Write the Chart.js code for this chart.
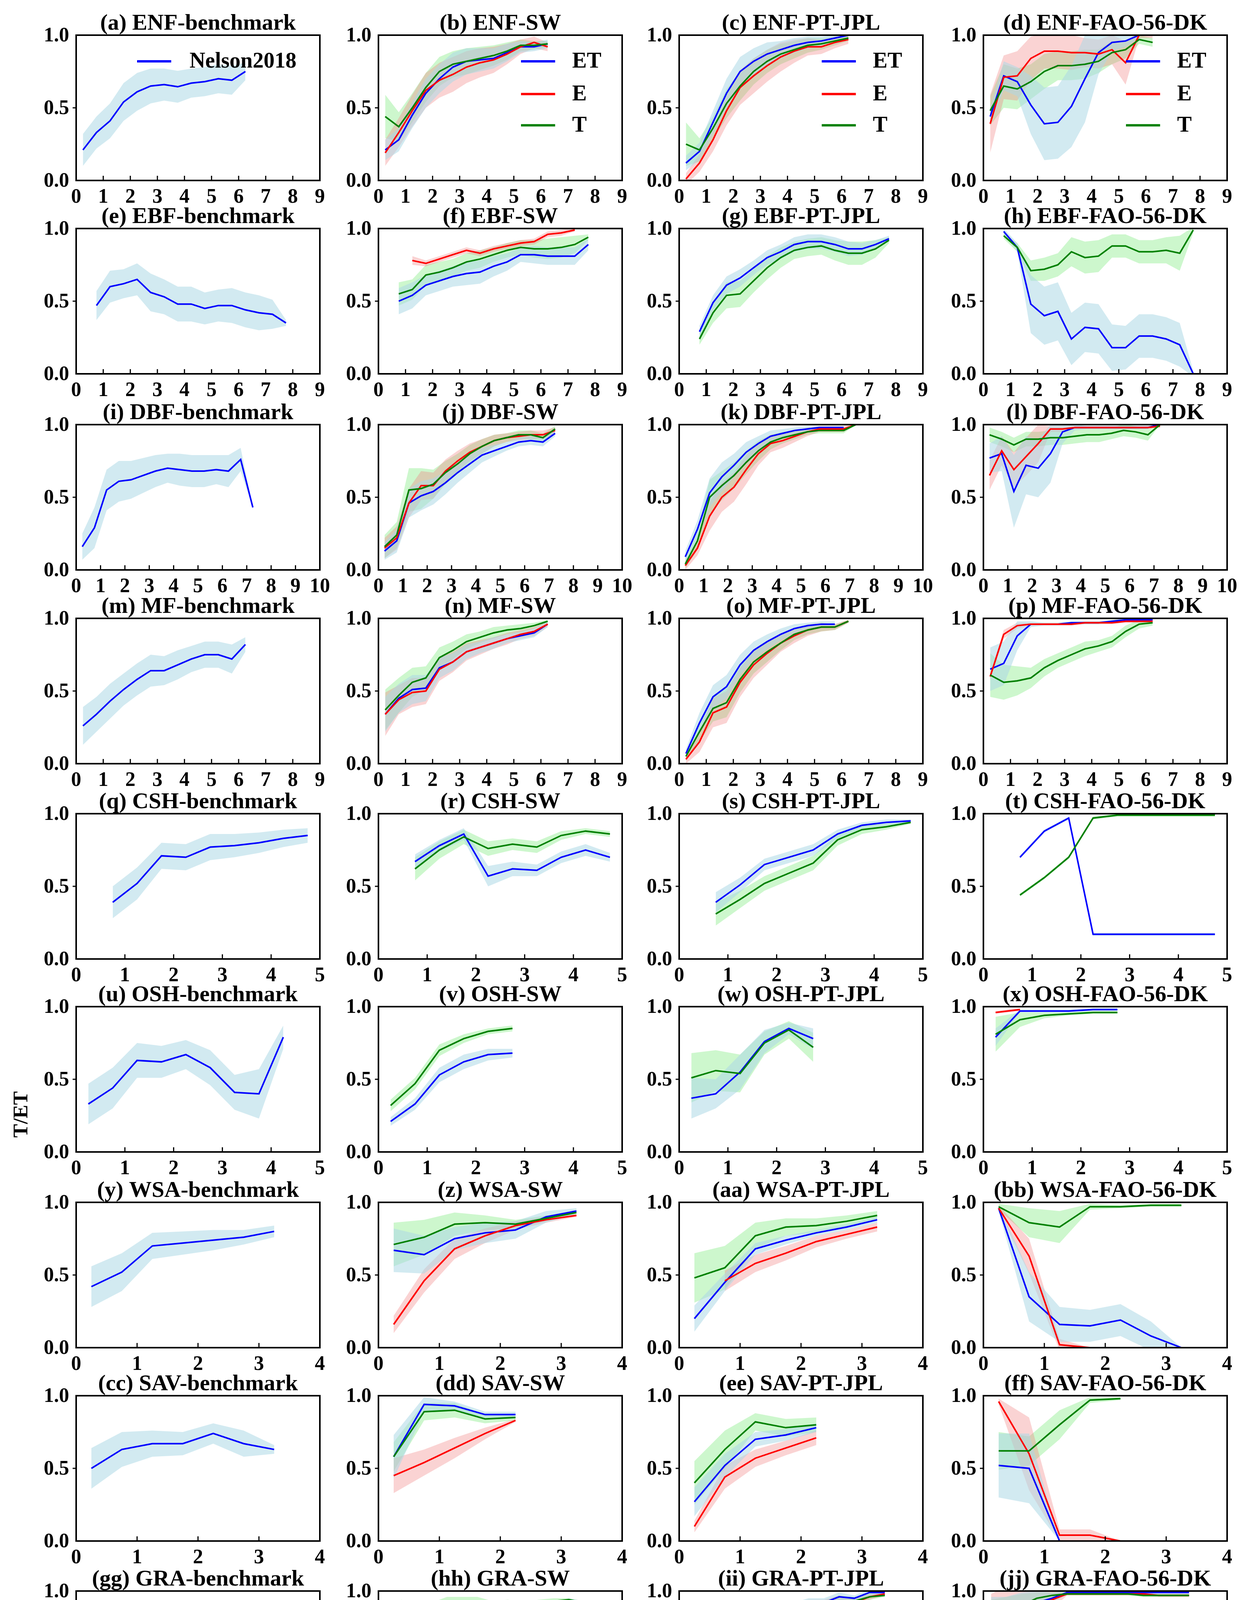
<!DOCTYPE html>
<html>
<head>
<meta charset="utf-8">
<script src="https://cdn.jsdelivr.net/npm/chart.js@4.4.1/dist/chart.umd.min.js"></script>
<style>
  body { margin: 0; background: #fff; width: 3175px; height: 5575px; position: relative; overflow: hidden; font-family: "Liberation Serif", serif; }
  canvas { position: absolute; }
  .lab { position: absolute; font-weight: bold; font-size: 52px; color: #000; }
</style>
</head>
<body>
<div class="lab" style="left:14px;top:2853px;transform:translate(-50%,-50%) rotate(-90deg);left:52px;">T/ET</div>
<div class="lab" style="left:1585px;top:5534px;transform:translate(-50%,-50%);">LAI</div>
<script>
// ---- LAI bin centres per land cover ----
const xENF = [0.25,0.75,1.25,1.75,2.25,2.75,3.25,3.75,4.25,4.75,5.25,5.75,6.25];
const xEBF = [0.75,1.25,1.75,2.25,2.75,3.25,3.75,4.25,4.75,5.25,5.75,6.25,6.75,7.25,7.75];
const xDBF = [0.25,0.75,1.25,1.75,2.25,2.75,3.25,3.75,4.25,4.75,5.25,5.75,6.25,6.75,7.25];
const xMF  = [0.25,0.75,1.25,1.75,2.25,2.75,3.25,3.75,4.25,4.75,5.25,5.75,6.25];
const xCSH = [0.75,1.25,1.75,2.25,2.75,3.25,3.75,4.25,4.75];
const xOSH = [0.25,0.75,1.25,1.75,2.25,2.75,3.25,3.75,4.25];
const xWSA = [0.25,0.75,1.25,1.75,2.25,2.75,3.25];
const xSAV = [0.25,0.75,1.25,1.75,2.25,2.75,3.25];
const xGRA = [0.25,0.75,1.25,1.75,2.25,2.75,3.25,3.75,4.25,4.75,5.25,5.75,6.25,6.75,7.25];
const xWET = [0.25,0.75,1.25,1.75,2.25,2.75,3.25,3.75,4.25,4.75,5.25];
const xCRO = [0.25,0.75,1.25,1.75,2.25,2.75,3.25,3.75,4.25,4.75,5.25,5.75,6.25];

// ---- T/ET means and spreads (ET = T/ET of ET partition, E, T) ----
const a_ET = [0.21,0.33,0.41,0.54,0.61,0.65,0.66,0.645,0.67,0.68,0.70,0.69,0.75];
const a_ETsd = [0.11,0.11,0.12,0.13,0.13,0.12,0.11,0.11,0.1,0.1,0.1,0.1,0.06];
const b_ET = [0.21,0.28,0.45,0.6,0.7,0.78,0.82,0.83,0.84,0.88,0.92,0.92,0.94];
const b_ETsd = [0.07,0.08,0.09,0.1,0.1,0.1,0.09,0.08,0.07,0.06,0.04,0.03,0.03];
const b_E = [0.19,0.33,0.48,0.62,0.69,0.73,0.78,0.81,0.83,0.87,0.92,0.95,0.92];
const b_Esd = [0.09,0.1,0.11,0.12,0.12,0.12,0.11,0.1,0.09,0.07,0.05,0.04,0.03];
const b_T = [0.44,0.37,0.5,0.64,0.75,0.8,0.82,0.84,0.86,0.89,0.93,0.93,0.94];
const b_Tsd = [0.15,0.1,0.1,0.1,0.1,0.09,0.09,0.08,0.07,0.06,0.04,0.03,0.02];
const c_ET = [0.12,0.2,0.4,0.6,0.75,0.82,0.87,0.9,0.93,0.95,0.96,0.98,1.0];
const c_ETsd = [0.05,0.06,0.08,0.1,0.1,0.09,0.08,0.06,0.05,0.04,0.03,0.02,0.01];
const c_E = [0.01,0.12,0.28,0.48,0.64,0.72,0.79,0.85,0.89,0.92,0.92,0.95,0.97];
const c_Esd = [0.04,0.06,0.08,0.1,0.12,0.12,0.11,0.1,0.08,0.06,0.05,0.04,0.03];
const c_T = [0.25,0.21,0.36,0.53,0.65,0.75,0.82,0.87,0.9,0.93,0.94,0.96,0.98];
const c_Tsd = [0.15,0.08,0.08,0.1,0.1,0.09,0.08,0.07,0.06,0.05,0.04,0.03,0.02];
const d_ET = [0.44,0.72,0.68,0.52,0.39,0.40,0.51,0.70,0.88,0.95,0.96,1.0,null];
const d_ETsd = [0.06,0.1,0.1,0.2,0.25,0.25,0.28,0.3,0.15,0.06,0.04,0.02,null];
const d_E = [0.39,0.71,0.72,0.84,0.89,0.89,0.88,0.88,0.87,0.9,0.81,1.0,1.0];
const d_Esd = [0.2,0.15,0.17,0.15,0.12,0.12,0.12,0.1,0.1,0.1,0.15,0.02,0.02];
const d_T = [0.48,0.65,0.63,0.68,0.75,0.79,0.79,0.8,0.82,0.88,0.9,0.97,0.95];
const d_Tsd = [0.1,0.15,0.14,0.12,0.12,0.1,0.1,0.1,0.08,0.08,0.06,0.03,0.03];

const e_ET = [0.47,0.6,0.62,0.65,0.56,0.53,0.48,0.48,0.45,0.47,0.47,0.44,0.42,0.41,0.35];
const e_ETsd = [0.1,0.11,0.1,0.11,0.13,0.12,0.12,0.12,0.11,0.11,0.12,0.12,0.12,0.1,0.02];
const f_ET = [0.5,0.54,0.61,0.64,0.67,0.69,0.7,0.74,0.77,0.82,0.82,0.81,0.81,0.81,0.89];
const f_ETsd = [0.09,0.09,0.07,0.07,0.07,0.08,0.08,0.07,0.06,0.05,0.06,0.06,0.06,0.06,0.04];
const f_E = [null,0.78,0.76,0.79,0.82,0.85,0.83,0.86,0.88,0.9,0.91,0.96,0.97,0.99,null];
const f_Esd = [null,0.03,0.02,0.02,0.02,0.02,0.02,0.02,0.02,0.02,0.02,0.02,0.02,0.01,null];
const f_T = [0.55,0.58,0.68,0.7,0.73,0.77,0.79,0.82,0.85,0.87,0.86,0.86,0.87,0.89,0.94];
const f_Tsd = [0.08,0.07,0.07,0.07,0.06,0.06,0.06,0.05,0.05,0.05,0.06,0.07,0.07,0.06,0.02];
const g_ET = [0.29,0.49,0.61,0.66,0.73,0.8,0.84,0.89,0.91,0.91,0.89,0.86,0.86,0.89,0.93];
const g_ETsd = [0.04,0.05,0.06,0.06,0.05,0.05,0.05,0.05,0.05,0.05,0.05,0.05,0.04,0.03,0.02];
const g_T = [0.24,0.42,0.54,0.55,0.64,0.73,0.8,0.85,0.87,0.88,0.85,0.83,0.83,0.86,0.92];
const g_Tsd = [0.04,0.07,0.09,0.09,0.08,0.08,0.07,0.06,0.06,0.06,0.07,0.08,0.08,0.06,0.02];
const h_ET = [0.98,0.87,0.48,0.4,0.43,0.24,0.32,0.31,0.18,0.18,0.26,0.26,0.24,0.2,0.0];
const h_ETsd = [0.02,0.03,0.2,0.2,0.2,0.18,0.17,0.17,0.16,0.15,0.15,0.15,0.15,0.15,0.02];
const h_T = [0.95,0.87,0.71,0.72,0.75,0.84,0.8,0.81,0.88,0.88,0.84,0.84,0.85,0.83,0.99];
const h_Tsd = [0.02,0.03,0.07,0.08,0.08,0.1,0.11,0.11,0.08,0.08,0.08,0.08,0.09,0.12,0.02];

const i_ET = [0.16,0.29,0.55,0.61,0.62,0.65,0.68,0.7,0.69,0.68,0.68,0.69,0.68,0.76,0.43];
const i_ETsd = [0.09,0.14,0.14,0.14,0.13,0.12,0.11,0.1,0.11,0.11,0.11,0.1,0.11,0.08,0.0];
const j_ET = [0.13,0.2,0.46,0.51,0.54,0.6,0.67,0.73,0.79,0.82,0.85,0.88,0.89,0.88,0.94];
const j_ETsd = [0.06,0.08,0.1,0.1,0.09,0.08,0.07,0.06,0.05,0.04,0.03,0.03,0.03,0.03,0.02];
const j_E = [0.15,0.22,0.46,0.58,0.58,0.68,0.75,0.81,0.85,0.89,0.91,0.92,0.93,0.93,0.96];
const j_Esd = [0.07,0.08,0.1,0.1,0.09,0.08,0.07,0.06,0.05,0.04,0.03,0.03,0.03,0.03,0.02];
const j_T = [0.16,0.24,0.55,0.56,0.59,0.67,0.73,0.8,0.85,0.89,0.91,0.93,0.93,0.91,0.97];
const j_Tsd = [0.08,0.09,0.15,0.14,0.1,0.08,0.07,0.06,0.05,0.04,0.03,0.03,0.03,0.03,0.02];
const k_ET = [0.09,0.28,0.53,0.64,0.72,0.81,0.87,0.92,0.94,0.96,0.97,0.98,0.98,0.98,null];
const k_ETsd = [0.04,0.06,0.1,0.1,0.08,0.07,0.05,0.04,0.03,0.02,0.02,0.01,0.01,0.01,null];
const k_E = [0.03,0.15,0.37,0.5,0.57,0.69,0.8,0.87,0.89,0.92,0.95,0.97,0.97,0.97,1.0];
const k_Esd = [0.03,0.05,0.1,0.1,0.1,0.1,0.08,0.06,0.05,0.04,0.03,0.02,0.02,0.02,0.0];
const k_T = [0.04,0.2,0.5,0.58,0.65,0.74,0.82,0.88,0.91,0.93,0.95,0.96,0.96,0.96,1.0];
const k_Tsd = [0.03,0.06,0.12,0.1,0.09,0.08,0.07,0.05,0.04,0.03,0.02,0.02,0.02,0.02,0.0];
const l_ET = [0.77,0.8,0.54,0.72,0.7,0.8,0.95,0.98,0.98,0.98,0.98,0.98,0.98,0.98,1.0];
const l_ETsd = [0.1,0.12,0.25,0.2,0.2,0.2,0.08,0.02,0.01,0.01,0.01,0.01,0.01,0.01,0.0];
const l_E = [0.65,0.82,0.69,0.78,0.87,0.97,0.97,0.98,0.98,0.98,0.98,0.98,0.98,0.98,0.99];
const l_Esd = [0.1,0.1,0.12,0.13,0.13,0.02,0.02,0.01,0.01,0.01,0.01,0.01,0.01,0.01,0.01];
const l_T = [0.93,0.9,0.86,0.9,0.9,0.91,0.91,0.92,0.93,0.93,0.94,0.96,0.95,0.93,1.0];
const l_Tsd = [0.05,0.05,0.05,0.05,0.05,0.05,0.05,0.05,0.05,0.05,0.04,0.04,0.04,0.04,0.0];

const m_ET = [0.26,0.34,0.43,0.51,0.58,0.64,0.64,0.68,0.72,0.75,0.75,0.72,0.82];
const m_ETsd = [0.13,0.12,0.12,0.11,0.11,0.11,0.1,0.1,0.09,0.09,0.09,0.1,0.05];
const n_ET = [0.34,0.45,0.51,0.52,0.66,0.7,0.77,0.8,0.83,0.86,0.88,0.9,0.96];
const n_ETsd = [0.12,0.1,0.1,0.09,0.07,0.06,0.05,0.04,0.04,0.03,0.03,0.03,0.02];
const n_E = [0.34,0.44,0.49,0.5,0.65,0.7,0.77,0.8,0.83,0.86,0.89,0.91,0.96];
const n_Esd = [0.15,0.1,0.1,0.09,0.08,0.07,0.06,0.05,0.04,0.04,0.03,0.03,0.02];
const n_T = [0.37,0.47,0.56,0.59,0.73,0.78,0.84,0.87,0.9,0.92,0.93,0.95,0.98];
const n_Tsd = [0.14,0.12,0.1,0.08,0.07,0.06,0.05,0.04,0.04,0.03,0.03,0.02,0.01];
const o_ET = [0.07,0.28,0.46,0.53,0.68,0.78,0.84,0.89,0.93,0.95,0.96,0.96,null];
const o_ETsd = [0.03,0.07,0.08,0.08,0.07,0.06,0.05,0.04,0.03,0.02,0.02,0.02,null];
const o_E = [0.03,0.15,0.35,0.39,0.56,0.68,0.76,0.83,0.88,0.92,0.94,0.94,0.98];
const o_Esd = [0.03,0.07,0.1,0.11,0.1,0.09,0.08,0.06,0.05,0.04,0.03,0.02,0.01];
const o_T = [0.05,0.22,0.38,0.42,0.58,0.7,0.77,0.83,0.89,0.92,0.94,0.94,0.98];
const o_Tsd = [0.03,0.07,0.09,0.1,0.09,0.08,0.07,0.05,0.04,0.03,0.03,0.02,0.01];
const p_ET = [0.65,0.69,0.88,0.96,0.96,0.96,0.97,0.97,0.97,0.98,0.99,0.99,0.99];
const p_ETsd = [0.15,0.15,0.1,0.02,0.01,0.01,0.01,0.01,0.01,0.01,0.01,0.01,0.01];
const p_E = [0.6,0.89,0.95,0.96,0.96,0.96,0.96,0.97,0.97,0.97,0.98,0.98,0.98];
const p_Esd = [0.02,0.03,0.02,0.01,0.01,0.01,0.01,0.01,0.01,0.01,0.01,0.01,0.01];
const p_T = [0.61,0.56,0.57,0.59,0.66,0.71,0.75,0.79,0.81,0.84,0.91,0.96,0.97];
const p_Tsd = [0.15,0.12,0.1,0.07,0.06,0.05,0.05,0.05,0.04,0.04,0.04,0.03,0.02];

const q_ET = [0.39,0.52,0.71,0.7,0.77,0.78,0.8,0.83,0.85];
const q_ETsd = [0.11,0.11,0.09,0.09,0.09,0.08,0.07,0.06,0.05];
const r_ET = [0.67,0.78,0.86,0.57,0.62,0.61,0.7,0.75,0.7];
const r_ETsd = [0.05,0.04,0.04,0.07,0.05,0.04,0.04,0.04,0.03];
const r_T = [0.62,0.75,0.84,0.76,0.79,0.77,0.85,0.88,0.86];
const r_Tsd = [0.08,0.06,0.05,0.05,0.04,0.04,0.03,0.02,0.02];
const s_ET = [0.39,0.51,0.65,0.7,0.75,0.86,0.92,0.94,0.95];
const s_ETsd = [0.07,0.05,0.04,0.04,0.04,0.03,0.02,0.02,0.01];
const s_T = [0.31,0.41,0.52,0.59,0.66,0.82,0.89,0.91,0.94];
const s_Tsd = [0.08,0.06,0.05,0.05,0.05,0.04,0.03,0.02,0.01];
const t_ET = [0.7,0.88,0.97,0.17,0.17,0.17,0.17,0.17,0.17];
const t_ETsd = [0.01,0.01,0.01,0.01,0.01,0.01,0.01,0.01,0.01];
const t_T = [0.44,0.56,0.7,0.97,0.99,0.99,0.99,0.99,0.99];
const t_Tsd = [0.01,0.01,0.01,0.01,0.01,0.01,0.01,0.01,0.01];

const u_ET = [0.33,0.44,0.63,0.62,0.67,0.58,0.41,0.4,0.79];
const u_ETsd = [0.14,0.14,0.12,0.11,0.1,0.12,0.12,0.17,0.08];
const v_ET = [0.21,0.33,0.53,0.62,0.67,0.68,null,null,null];
const v_ETsd = [0.03,0.04,0.05,0.05,0.04,0.03,null,null,null];
const v_T = [0.32,0.47,0.7,0.78,0.83,0.85,null,null,null];
const v_Tsd = [0.04,0.04,0.04,0.03,0.02,0.02,null,null,null];
const w_ET = [0.37,0.4,0.55,0.76,0.85,0.78,null,null,null];
const w_ETsd = [0.14,0.1,0.12,0.08,0.04,0.07,null,null,null];
const w_T = [0.51,0.56,0.54,0.75,0.84,0.72,null,null,null];
const w_Tsd = [0.17,0.14,0.13,0.08,0.06,0.1,null,null,null];
const x_ET = [0.79,0.97,0.97,0.97,0.98,0.98,null,null,null];
const x_ETsd = [0.06,0.01,0.01,0.01,0.01,0.01,null,null,null];
const x_E = [0.96,0.98,null,null,null,null,null,null,null];
const x_Esd = [0.01,0.01,null,null,null,null,null,null,null];
const x_T = [0.81,0.91,0.94,0.95,0.96,0.96,null,null,null];
const x_Tsd = [0.12,0.05,0.02,0.01,0.01,0.01,null,null,null];

const y_ET = [0.42,0.52,0.7,0.72,0.74,0.76,0.8];
const y_ETsd = [0.14,0.13,0.09,0.08,0.07,0.05,0.04];
const z_ET = [0.67,0.64,0.75,0.79,0.81,0.9,0.94];
const z_ETsd = [0.15,0.13,0.08,0.07,0.06,0.04,0.02];
const z_E = [0.16,0.46,0.68,0.77,0.84,0.88,0.91];
const z_Esd = [0.06,0.08,0.07,0.05,0.03,0.02,0.01];
const z_T = [0.71,0.76,0.85,0.86,0.85,0.89,0.93];
const z_Tsd = [0.15,0.12,0.08,0.05,0.03,0.02,0.01];
const aa_ET = [0.2,0.45,0.68,0.74,0.79,0.83,0.88];
const aa_ETsd = [0.09,0.06,0.04,0.03,0.02,0.02,0.02];
const aa_E = [null,0.46,0.58,0.65,0.73,0.78,0.83];
const aa_Esd = [null,0.07,0.06,0.05,0.04,0.03,0.03];
const aa_T = [0.48,0.55,0.77,0.83,0.84,0.87,0.91];
const aa_Tsd = [0.17,0.15,0.09,0.06,0.05,0.04,0.03];
const bb_ET = [0.96,0.35,0.16,0.15,0.19,0.08,0.0];
const bb_ETsd = [0.02,0.17,0.12,0.11,0.11,0.1,0.0];
const bb_E = [0.96,0.63,0.02,0.0,null,null,null];
const bb_Esd = [0.02,0.12,0.04,0.0,null,null,null];
const bb_T = [0.97,0.86,0.83,0.97,0.97,0.98,0.98];
const bb_Tsd = [0.02,0.1,0.11,0.02,0.01,0.01,0.01];

const cc_ET = [0.5,0.63,0.67,0.67,0.74,0.67,0.63];
const cc_ETsd = [0.14,0.12,0.09,0.08,0.07,0.09,0.03];
const dd_ET = [0.58,0.94,0.93,0.87,0.87,null,null];
const dd_ETsd = [0.15,0.05,0.03,0.02,0.02,null,null];
const dd_E = [0.45,0.54,0.64,0.74,0.83,null,null];
const dd_Esd = [0.12,0.09,0.07,0.04,0.01,null,null];
const dd_T = [0.58,0.89,0.9,0.84,0.85,null,null];
const dd_Tsd = [0.1,0.06,0.05,0.03,0.02,null,null];
const ee_ET = [0.27,0.52,0.7,0.73,0.78,null,null];
const ee_ETsd = [0.1,0.08,0.05,0.04,0.03,null,null];
const ee_E = [0.1,0.44,0.57,0.64,0.71,null,null];
const ee_Esd = [0.04,0.08,0.06,0.05,0.05,null,null];
const ee_T = [0.4,0.63,0.82,0.78,0.8,null,null];
const ee_Tsd = [0.15,0.13,0.06,0.06,0.05,null,null];
const ff_ET = [0.52,0.5,0.0,0.0,0.0,null,null];
const ff_ETsd = [0.22,0.24,0.0,0.0,0.0,null,null];
const ff_E = [0.96,0.6,0.04,0.04,0.0,null,null];
const ff_Esd = [0.02,0.25,0.04,0.04,0.0,null,null];
const ff_T = [0.62,0.62,0.8,0.97,0.98,null,null];
const ff_Tsd = [0.13,0.1,0.1,0.02,0.01,null,null];

const gg_ET = [0.34,0.53,0.62,0.69,0.76,0.76,0.72,0.75,0.75,0.76,0.79,0.71,0.7,0.7,0.71];
const gg_ETsd = [0.13,0.15,0.13,0.11,0.1,0.1,0.11,0.1,0.1,0.09,0.08,0.1,0.1,0.1,0.09];
const hh_ET = [0.46,0.61,0.64,0.72,0.78,0.81,0.81,0.81,0.84,0.84,0.87,0.87,0.92,0.91,null];
const hh_ETsd = [0.12,0.12,0.11,0.1,0.09,0.08,0.07,0.06,0.05,0.05,0.04,0.04,0.03,0.02,null];
const hh_E = [0.22,0.42,0.58,0.68,0.77,0.79,0.78,0.78,0.8,0.78,0.82,0.84,0.88,0.85,null];
const hh_Esd = [0.12,0.12,0.11,0.1,0.09,0.09,0.08,0.06,0.05,0.05,0.04,0.04,0.03,0.02,null];
const hh_T = [0.63,0.84,0.84,0.87,0.92,0.93,0.93,0.91,0.92,0.9,0.92,0.93,0.94,0.92,null];
const hh_Tsd = [0.15,0.1,0.07,0.05,0.04,0.03,0.03,0.02,0.02,0.02,0.02,0.02,0.01,0.01,null];
const ii_ET = [0.27,0.48,0.58,0.7,0.79,0.82,0.88,0.88,0.91,0.92,0.96,0.95,0.99,0.99,null];
const ii_ETsd = [0.1,0.08,0.08,0.07,0.06,0.05,0.05,0.04,0.04,0.03,0.03,0.02,0.02,0.01,null];
const ii_E = [0.3,0.42,0.53,0.68,0.77,0.82,0.85,0.85,0.88,0.89,0.93,0.92,0.96,0.98,null];
const ii_Esd = [0.1,0.1,0.11,0.1,0.09,0.08,0.07,0.07,0.06,0.05,0.04,0.03,0.02,0.01,null];
const ii_T = [0.41,0.6,0.66,0.74,0.8,0.82,0.85,0.85,0.88,0.89,0.93,0.93,0.96,0.97,null];
const ii_Tsd = [0.18,0.14,0.12,0.1,0.08,0.07,0.06,0.05,0.05,0.04,0.04,0.03,0.02,0.01,null];
const jj_ET = [0.8,0.81,0.84,0.92,0.95,0.99,0.99,0.99,0.99,0.99,0.99,0.99,0.99,0.99,null];
const jj_ETsd = [0.16,0.15,0.15,0.08,0.04,0.01,0.01,0.01,0.01,0.01,0.01,0.01,0.01,0.01,null];
const jj_E = [0.88,0.88,0.88,0.9,0.94,0.98,0.98,0.98,0.98,0.98,0.98,0.97,0.97,0.97,null];
const jj_Esd = [0.1,0.15,0.15,0.12,0.06,0.01,0.01,0.01,0.01,0.01,0.01,0.01,0.01,0.01,null];
const jj_T = [0.82,0.86,0.9,0.95,0.97,0.98,0.98,0.98,0.98,0.98,0.97,0.97,0.97,0.97,null];
const jj_Tsd = [0.12,0.1,0.08,0.04,0.02,0.01,0.01,0.01,0.01,0.01,0.01,0.01,0.01,0.01,null];

const kk_ET = [0.22,0.32,0.51,0.61,0.65,0.71,0.77,0.79,0.75,0.74,0.76];
const kk_ETsd = [0.11,0.13,0.13,0.12,0.11,0.09,0.09,0.09,0.12,0.11,0.1];
const ll_ET = [null,0.28,0.44,0.66,0.77,0.81,null,null,null,null,null];
const ll_ETsd = [null,0.05,0.07,0.05,0.03,0.02,null,null,null,null,null];
const ll_E = [null,0.59,0.71,0.83,0.87,0.9,null,null,null,null,null];
const ll_Esd = [null,0.02,0.02,0.02,0.01,0.01,null,null,null,null,null];
const ll_T = [null,0.58,0.7,0.82,0.87,0.9,null,null,null,null,null];
const ll_Tsd = [null,0.02,0.02,0.02,0.01,0.01,null,null,null,null,null];
const mm_ET = [null,0.53,0.64,0.77,0.8,0.86,null,null,null,null,null];
const mm_ETsd = [null,0.05,0.05,0.04,0.05,0.03,null,null,null,null,null];
const mm_T = [null,0.68,0.67,0.74,0.8,0.86,null,null,null,null,null];
const mm_Tsd = [null,0.07,0.08,0.08,0.08,0.04,null,null,null,null,null];
const nn_ET = [null,0.96,0.98,0.99,0.99,0.99,null,null,null,null,null];
const nn_ETsd = [null,0.01,0.01,0.01,0.01,0.01,null,null,null,null,null];
const nn_T = [null,0.36,0.52,0.71,0.79,0.83,null,null,null,null,null];
const nn_Tsd = [null,0.05,0.04,0.03,0.02,0.02,null,null,null,null,null];

const oo_ET = [0.17,0.36,0.52,0.63,0.61,0.62,0.68,0.74,0.84,0.85,0.88,0.9,0.96];
const oo_ETsd = [0.1,0.13,0.14,0.13,0.11,0.11,0.11,0.1,0.07,0.06,0.06,0.05,0.02];
const pp_ET = [0.12,0.3,0.48,0.65,0.8,0.86,0.82,0.87,0.86,0.87,0.87,0.88,0.82];
const pp_ETsd = [0.05,0.06,0.07,0.07,0.06,0.04,0.04,0.04,0.03,0.03,0.03,0.04,0.04];
const pp_E = [0.04,0.18,0.36,0.55,0.74,0.79,0.74,0.8,0.78,0.79,0.77,0.73,0.77];
const pp_Esd = [0.04,0.06,0.07,0.08,0.1,0.09,0.09,0.07,0.05,0.05,0.05,0.05,0.05];
const pp_T = [0.22,0.5,0.65,0.77,0.85,0.89,0.89,0.92,0.92,0.93,0.93,0.93,0.92];
const pp_Tsd = [0.1,0.12,0.1,0.08,0.06,0.04,0.03,0.03,0.03,0.02,0.02,0.02,0.02];
const qq_ET = [0.09,0.32,0.5,0.68,0.79,0.86,0.87,0.91,0.93,0.94,0.92,0.96,0.92];
const qq_ETsd = [0.07,0.1,0.1,0.08,0.07,0.05,0.05,0.04,0.03,0.03,0.03,0.03,0.03];
const qq_E = [0.09,0.36,0.49,0.68,0.79,0.85,0.85,0.89,0.91,0.92,0.9,0.94,0.86];
const qq_Esd = [0.07,0.1,0.1,0.09,0.08,0.06,0.06,0.05,0.04,0.04,0.05,0.04,0.06];
const qq_T = [0.14,0.45,0.6,0.75,0.83,0.88,0.87,0.91,0.92,0.93,0.92,0.95,0.9];
const qq_Tsd = [0.1,0.12,0.11,0.09,0.07,0.05,0.05,0.04,0.04,0.04,0.04,0.03,0.04];
const rr_ET = [0.5,0.86,0.8,0.83,0.93,0.93,0.93,0.92,0.92,0.94,0.96,0.95,0.83];
const rr_ETsd = [0.05,0.1,0.12,0.12,0.07,0.04,0.03,0.03,0.03,0.03,0.03,0.03,0.05];
const rr_E = [0.47,0.94,0.94,0.91,0.97,0.99,0.99,0.99,0.99,0.99,0.99,0.99,0.99];
const rr_Esd = [0.05,0.07,0.06,0.05,0.02,0.01,0.01,0.01,0.01,0.01,0.01,0.01,0.01];
const rr_T = [0.39,0.72,0.72,0.81,0.89,0.92,0.92,0.92,0.93,0.95,0.96,0.93,0.78];
const rr_Tsd = [0.1,0.12,0.1,0.08,0.06,0.04,0.04,0.04,0.04,0.03,0.03,0.03,0.08];

// ---- panel table (built from arrays above) ----
const panels = [
  ['(a) ENF-benchmark', xENF, 9, {ET:[a_ET,a_ETsd]}, 'nelson'],
  ['(b) ENF-SW', xENF, 9, {ET:[b_ET,b_ETsd], E:[b_E,b_Esd], T:[b_T,b_Tsd]}, 'ete'],
  ['(c) ENF-PT-JPL', xENF, 9, {ET:[c_ET,c_ETsd], E:[c_E,c_Esd], T:[c_T,c_Tsd]}, 'ete'],
  ['(d) ENF-FAO-56-DK', xENF, 9, {ET:[d_ET,d_ETsd], E:[d_E,d_Esd], T:[d_T,d_Tsd]}, 'ete'],
  ['(e) EBF-benchmark', xEBF, 9, {ET:[e_ET,e_ETsd]}],
  ['(f) EBF-SW', xEBF, 9, {ET:[f_ET,f_ETsd], E:[f_E,f_Esd], T:[f_T,f_Tsd]}],
  ['(g) EBF-PT-JPL', xEBF, 9, {ET:[g_ET,g_ETsd], T:[g_T,g_Tsd]}],
  ['(h) EBF-FAO-56-DK', xEBF, 9, {ET:[h_ET,h_ETsd], T:[h_T,h_Tsd]}],
  ['(i) DBF-benchmark', xDBF, 10, {ET:[i_ET,i_ETsd]}],
  ['(j) DBF-SW', xDBF, 10, {ET:[j_ET,j_ETsd], E:[j_E,j_Esd], T:[j_T,j_Tsd]}],
  ['(k) DBF-PT-JPL', xDBF, 10, {ET:[k_ET,k_ETsd], E:[k_E,k_Esd], T:[k_T,k_Tsd]}],
  ['(l) DBF-FAO-56-DK', xDBF, 10, {ET:[l_ET,l_ETsd], E:[l_E,l_Esd], T:[l_T,l_Tsd]}],
  ['(m) MF-benchmark', xMF, 9, {ET:[m_ET,m_ETsd]}],
  ['(n) MF-SW', xMF, 9, {ET:[n_ET,n_ETsd], E:[n_E,n_Esd], T:[n_T,n_Tsd]}],
  ['(o) MF-PT-JPL', xMF, 9, {ET:[o_ET,o_ETsd], E:[o_E,o_Esd], T:[o_T,o_Tsd]}],
  ['(p) MF-FAO-56-DK', xMF, 9, {ET:[p_ET,p_ETsd], E:[p_E,p_Esd], T:[p_T,p_Tsd]}],
  ['(q) CSH-benchmark', xCSH, 5, {ET:[q_ET,q_ETsd]}],
  ['(r) CSH-SW', xCSH, 5, {ET:[r_ET,r_ETsd], T:[r_T,r_Tsd]}],
  ['(s) CSH-PT-JPL', xCSH, 5, {ET:[s_ET,s_ETsd], T:[s_T,s_Tsd]}],
  ['(t) CSH-FAO-56-DK', xCSH, 5, {ET:[t_ET,t_ETsd], T:[t_T,t_Tsd]}],
  ['(u) OSH-benchmark', xOSH, 5, {ET:[u_ET,u_ETsd]}],
  ['(v) OSH-SW', xOSH, 5, {ET:[v_ET,v_ETsd], T:[v_T,v_Tsd]}],
  ['(w) OSH-PT-JPL', xOSH, 5, {ET:[w_ET,w_ETsd], T:[w_T,w_Tsd]}],
  ['(x) OSH-FAO-56-DK', xOSH, 5, {ET:[x_ET,x_ETsd], E:[x_E,x_Esd], T:[x_T,x_Tsd]}],
  ['(y) WSA-benchmark', xWSA, 4, {ET:[y_ET,y_ETsd]}],
  ['(z) WSA-SW', xWSA, 4, {ET:[z_ET,z_ETsd], E:[z_E,z_Esd], T:[z_T,z_Tsd]}],
  ['(aa) WSA-PT-JPL', xWSA, 4, {ET:[aa_ET,aa_ETsd], E:[aa_E,aa_Esd], T:[aa_T,aa_Tsd]}],
  ['(bb) WSA-FAO-56-DK', xWSA, 4, {ET:[bb_ET,bb_ETsd], E:[bb_E,bb_Esd], T:[bb_T,bb_Tsd]}],
  ['(cc) SAV-benchmark', xSAV, 4, {ET:[cc_ET,cc_ETsd]}],
  ['(dd) SAV-SW', xSAV, 4, {ET:[dd_ET,dd_ETsd], E:[dd_E,dd_Esd], T:[dd_T,dd_Tsd]}],
  ['(ee) SAV-PT-JPL', xSAV, 4, {ET:[ee_ET,ee_ETsd], E:[ee_E,ee_Esd], T:[ee_T,ee_Tsd]}],
  ['(ff) SAV-FAO-56-DK', xSAV, 4, {ET:[ff_ET,ff_ETsd], E:[ff_E,ff_Esd], T:[ff_T,ff_Tsd]}],
  ['(gg) GRA-benchmark', xGRA, 8, {ET:[gg_ET,gg_ETsd]}],
  ['(hh) GRA-SW', xGRA, 8, {ET:[hh_ET,hh_ETsd], E:[hh_E,hh_Esd], T:[hh_T,hh_Tsd]}],
  ['(ii) GRA-PT-JPL', xGRA, 8, {ET:[ii_ET,ii_ETsd], E:[ii_E,ii_Esd], T:[ii_T,ii_Tsd]}],
  ['(jj) GRA-FAO-56-DK', xGRA, 8, {ET:[jj_ET,jj_ETsd], E:[jj_E,jj_Esd], T:[jj_T,jj_Tsd]}],
  ['(kk) WET-benchmark', xWET, 5, {ET:[kk_ET,kk_ETsd]}],
  ['(ll) WET-SW', xWET, 5, {ET:[ll_ET,ll_ETsd], E:[ll_E,ll_Esd], T:[ll_T,ll_Tsd]}],
  ['(mm) WET-PT-JPL', xWET, 5, {ET:[mm_ET,mm_ETsd], T:[mm_T,mm_Tsd]}],
  ['(nn) WET-FAO-56-DK', xWET, 5, {ET:[nn_ET,nn_ETsd], T:[nn_T,nn_Tsd]}],
  ['(oo) CRO-benchmark', xCRO, 7, {ET:[oo_ET,oo_ETsd]}],
  ['(pp) CRO-SW', xCRO, 7, {ET:[pp_ET,pp_ETsd], E:[pp_E,pp_Esd], T:[pp_T,pp_Tsd]}],
  ['(qq) CRO-PT-JPL', xCRO, 7, {ET:[qq_ET,qq_ETsd], E:[qq_E,qq_Esd], T:[qq_T,qq_Tsd]}],
  ['(rr) CRO-FAO-56-DK', xCRO, 7, {ET:[rr_ET,rr_ETsd], E:[rr_E,rr_Esd], T:[rr_T,rr_Tsd]}],
];

// ---- layout ----
const colLeft = [195, 969, 1739, 2518];
const rowTop = [90, 585, 1087, 1583, 2083, 2577, 3078, 3573, 4073, 4568, 5068];
const PW = 624, PH = 372;
const PADL = 160, PADT = 100, PADR = 50, PADB = 90;
const LINE = { ET: '#0000ff', E: '#ff0000', T: '#008000' };
const BAND = { ET: 'rgba(173,216,230,0.55)', E: 'rgba(240,128,128,0.35)', T: 'rgba(144,238,144,0.45)' };
const ORDER = { ET: 3, E: 2, T: 1 };
const FONT = '"Liberation Serif", "Times New Roman", serif';

// axes, frame, title and legend drawn on top of the chart
const framePlugin = {
  id: 'frame',
  afterDraw(chart) {
    const { ctx, chartArea: ca, scales } = chart;
    const cfg = chart.options.plugins.frame;
    ctx.save();
    ctx.fillStyle = '#000';
    ctx.strokeStyle = '#000';
    // inward x ticks
    ctx.lineWidth = 3;
    for (let v = 1; v < cfg.xmax; v++) {
      const px = scales.x.getPixelForValue(v);
      ctx.beginPath(); ctx.moveTo(px, ca.bottom); ctx.lineTo(px, ca.bottom - 12); ctx.stroke();
    }
    // outward y tick at 0.5
    const py5 = scales.y.getPixelForValue(0.5);
    ctx.beginPath(); ctx.moveTo(ca.left, py5); ctx.lineTo(ca.left - 9, py5); ctx.stroke();
    // frame
    ctx.lineWidth = 4;
    ctx.strokeRect(ca.left, ca.top, ca.right - ca.left, ca.bottom - ca.top);
    // x tick labels
    ctx.font = 'bold 52px ' + FONT;
    ctx.textAlign = 'center'; ctx.textBaseline = 'alphabetic';
    for (let v = 0; v <= cfg.xmax; v++) {
      ctx.fillText(String(v), scales.x.getPixelForValue(v), ca.bottom + 57);
    }
    // y tick labels
    ctx.textAlign = 'right'; ctx.textBaseline = 'middle';
    [0, 0.5, 1].forEach(v => ctx.fillText(v.toFixed(1), ca.left - 18, scales.y.getPixelForValue(v) + 3));
    // title
    ctx.font = 'bold 58px ' + FONT;
    ctx.textAlign = 'center'; ctx.textBaseline = 'alphabetic';
    ctx.fillText(cfg.title, (ca.left + ca.right) / 2, ca.top - 14);
    // legend
    const w = ca.right - ca.left, h = ca.bottom - ca.top;
    ctx.font = 'bold 56px ' + FONT;
    ctx.textBaseline = 'middle'; ctx.textAlign = 'left';
    ctx.lineWidth = 6;
    if (cfg.legend === 'nelson') {
      const y = ca.top + 0.18 * h;
      ctx.strokeStyle = LINE.ET;
      ctx.beginPath(); ctx.moveTo(ca.left + 0.25 * w, y); ctx.lineTo(ca.left + 0.39 * w, y); ctx.stroke();
      ctx.fillText('Nelson2018', ca.left + 0.465 * w, y + 2);
    } else if (cfg.legend === 'ete') {
      [['ET', 0.18], ['E', 0.405], ['T', 0.62]].forEach(([k, f]) => {
        const y = ca.top + f * h;
        ctx.strokeStyle = LINE[k];
        ctx.beginPath(); ctx.moveTo(ca.left + 0.585 * w, y); ctx.lineTo(ca.left + 0.725 * w, y); ctx.stroke();
        ctx.fillText(k, ca.left + 0.795 * w, y + 2);
      });
    }
    ctx.restore();
  }
};

panels.forEach((p, idx) => {
  const [title, xs, xmax, series, legend] = p;
  const r = Math.floor(idx / 4), c = idx % 4;
  const cv = document.createElement('canvas');
  cv.width = PADL + PW + PADR; cv.height = PADT + PH + PADB;
  cv.style.left = (colLeft[c] - PADL) + 'px';
  cv.style.top = (rowTop[r] - PADT) + 'px';
  document.body.appendChild(cv);

  const datasets = [];
  ['ET', 'E', 'T'].forEach(k => {
    if (!series[k]) return;
    const [ys, sd] = series[k];
    const pts = f => xs.map((x, i) => ({ x, y: ys[i] == null ? null : f(ys[i], sd[i]) }));
    datasets.push({ data: pts((y, s) => y + s), fill: '+1', backgroundColor: BAND[k], borderWidth: 0, pointRadius: 0, order: 10 });
    datasets.push({ data: pts((y, s) => y - s), fill: false, borderWidth: 0, pointRadius: 0, order: 10 });
  });
  ['ET', 'E', 'T'].forEach(k => {
    if (!series[k]) return;
    const ys = series[k][0];
    datasets.push({
      data: xs.map((x, i) => ({ x, y: ys[i] })),
      borderColor: LINE[k], borderWidth: 4, pointRadius: 0, fill: false, tension: 0, order: ORDER[k]
    });
  });

  new Chart(cv, {
    type: 'line',
    data: { datasets },
    options: {
      responsive: false, animation: false, devicePixelRatio: 1,
      layout: { padding: { left: PADL, top: PADT, right: PADR, bottom: PADB } },
      scales: {
        x: { type: 'linear', min: 0, max: xmax, display: false },
        y: { min: 0, max: 1, display: false }
      },
      plugins: { legend: { display: false }, tooltip: { enabled: false }, frame: { title, xmax, legend } }
    },
    plugins: [framePlugin]
  });
});
</script>
</body>
</html>
